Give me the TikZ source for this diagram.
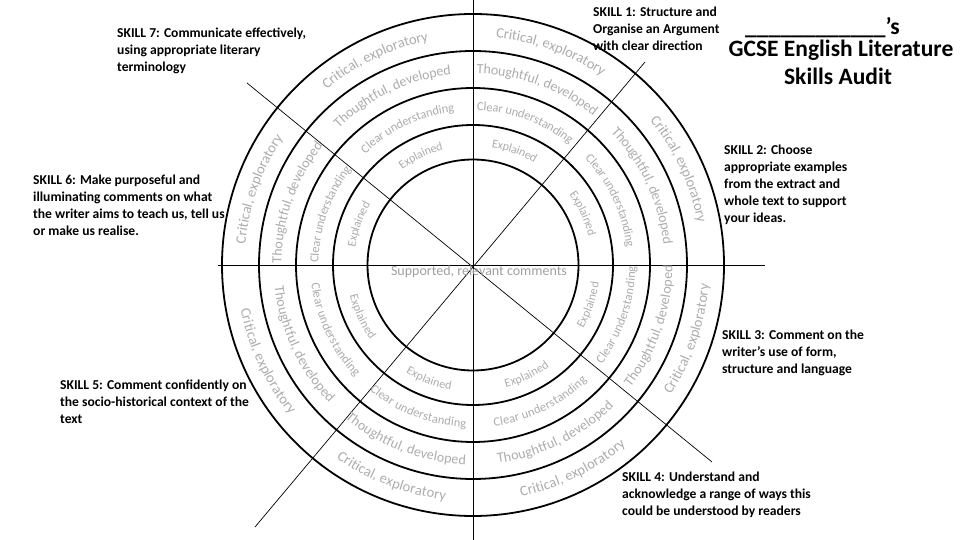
\documentclass[tikz,border=0pt]{standalone}
\usepackage{fontspec}
\setmainfont{Carlito}
\usetikzlibrary{decorations.text}
\definecolor{ringgray}{RGB}{172,172,172}
\definecolor{midgray}{RGB}{160,160,160}
\newcommand{\rtext}[5]{%
  \pgfmathsetmacro{\rtA}{#1+#5*35}%
  \pgfmathsetmacro{\rtB}{#1-#5*35}%
  \path[decorate, decoration={text along path, text align=center, raise=-4pt,
    text={|\fontsize{#3}{#3}\selectfont\color{ringgray}|#4}}]
    (C) ++(\rtA:#2pt) arc[start angle=\rtA, end angle=\rtB, radius=#2pt];
}
\begin{document}
\begin{tikzpicture}[x=1pt,y=1pt,
  ring/.style={circle, draw, line width=1.8pt, inner sep=0pt},
  spoke/.style={line width=0.7pt},
  skill/.style={anchor=north west, inner sep=0pt, align=left,
    font=\bfseries\fontsize{13.6}{17}\selectfont,
    execute at begin node={\rule{0pt}{11pt}}},
  title/.style={anchor=base, inner sep=0pt, font=\bfseries\fontsize{23.5}{28}\selectfont}
]
\useasboundingbox (0,0) rectangle (960,540);
\coordinate (C) at (473,275);
% spoke ends
\coordinate (vt) at (473,540);
\coordinate (vb) at (473,0);
\coordinate (hl) at (218,275);
\coordinate (hr) at (765,275);
\coordinate (al) at (247,457);
\coordinate (ar) at (712,78);
\coordinate (bu) at (645,478);
\coordinate (bl) at (255,13);
\draw[spoke] (vt) -- (vb);
\draw[spoke] (hl) -- (hr);
\draw[spoke] (al) -- (ar);
\draw[spoke] (bu) -- (bl);
% rings
\node[ring, minimum size=502pt] (r1) at (C) {};
\node[ring, minimum size=428pt] (r2) at (C) {};
\node[ring, minimum size=354pt] (r3) at (C) {};
\node[ring, minimum size=280pt] (r4) at (C) {};
\node[ring, minimum size=211pt] (r5) at (C) {};
% ring texts
\foreach \m/\d in {70/1, 115.5/1, 160.5/1, 25/1, 205/-1, 249/-1, 296/-1, -19/-1} {
  \rtext{\m}{232.5}{14.5}{Critical, exploratory}{\d}
  \rtext{\m}{195.5}{14}{Thoughtful, developed}{\d}
  \rtext{\m}{158.5}{12.5}{Clear understanding}{\d}
  \rtext{\m}{123}{12}{Explained}{\d}
}
\node[inner sep=0pt, text=midgray, font=\fontsize{14}{17}\selectfont] (core) at (479,268) {Supported, relevant comments};
% skill labels
\node[skill] (s7) at (117,512) {SKILL 7: Communicate effectively,\\using appropriate literary\\terminology};
\node[skill] (s6) at (33,365) {SKILL 6: Make purposeful and\\illuminating comments on what\\the writer aims to teach us, tell us\\or make us realise.};
\node[skill] (s5) at (60,160) {SKILL 5: Comment confidently on\\the socio-historical context of the\\text};
\node[skill] (s1) at (593,533) {SKILL 1: Structure and\\Organise an Argument\\with clear direction};
\node[skill] (s2) at (724,395) {SKILL 2: Choose\\appropriate examples\\from the extract and\\whole text to support\\your ideas.};
\node[skill] (s3) at (722,210) {SKILL 3: Comment on the\\writer’s use of form,\\structure and language};
\node[skill] (s4) at (622,68) {SKILL 4: Understand and\\acknowledge a range of ways this\\could be understood by readers};
% title
\node[title, anchor=base west] (name) at (745,505) {\_\_\_\_\_\_\_\_\_\_\_\_’s};
\node[title] (t1) at (841,483) {GCSE English Literature};
\node[title] (t2) at (838,455) {Skills Audit};
\end{tikzpicture}
\end{document}
